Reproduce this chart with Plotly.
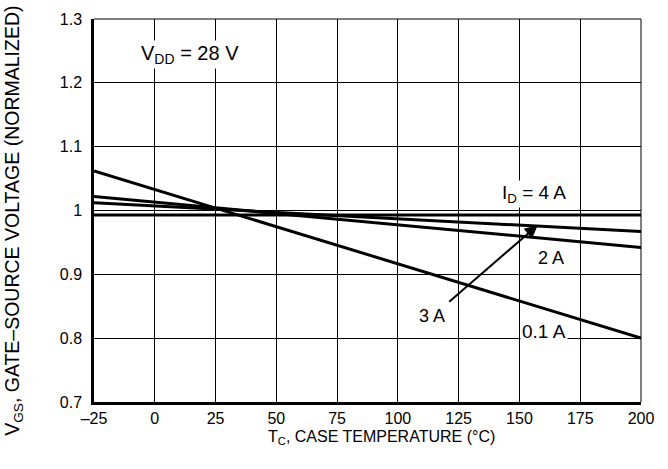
import plotly.graph_objects as go

# Data (normalized V_GS vs case temperature)
temps = [-25, 200]
vgs_01A = [1.062, 0.800]
vgs_2A = [1.022, 0.942]
vgs_3A = [1.012, 0.967]
vgs_4A = [0.993, 0.993]

x_ticks = [-25, 0, 25, 50, 75, 100, 125, 150, 175, 200]
x_tick_labels = ["–25", "0", "25", "50", "75", "100", "125", "150", "175", "200"]
y_ticks = [0.7, 0.8, 0.9, 1.0, 1.1, 1.2, 1.3]
y_tick_labels = ["0.7", "0.8", "0.9", "1", "1.1", "1.2", "1.3"]

x_title = "T<sub>C</sub>, CASE TEMPERATURE (°C)"
y_title = "V<sub>GS</sub>, GATE–SOURCE VOLTAGE (NORMALIZED)"

FONT = "Liberation Sans, Arial, sans-serif"

fig = go.Figure()
for ys in [vgs_01A, vgs_2A, vgs_3A, vgs_4A]:
    fig.add_trace(go.Scatter(x=temps, y=ys, mode="lines",
                             line=dict(color="black", width=3),
                             showlegend=False, hoverinfo="skip"))

# border lines at top and right (thin)
fig.add_shape(type="line", xref="paper", yref="paper", x0=0, x1=1, y0=1, y1=1,
              line=dict(color="black", width=1))
fig.add_shape(type="line", xref="paper", yref="paper", x0=1, x1=1, y0=0, y1=1,
              line=dict(color="black", width=1))

ann_font = dict(family=FONT, size=18, color="black")
fig.add_annotation(x=14.5, y=1.245, text="V<sub>DD</sub> = 28 V", showarrow=False,
                   font=dict(family=FONT, size=20, color="black"), bgcolor="white")
fig.add_annotation(x=156, y=1.026, text="I<sub>D</sub> = 4 A", showarrow=False,
                   font=dict(family=FONT, size=19, color="black"), bgcolor="white")
fig.add_annotation(x=163, y=0.925, text="2 A", showarrow=False,
                   font=ann_font, bgcolor="white")
fig.add_annotation(x=160, y=0.811, text="0.1 A", showarrow=False,
                   font=dict(family=FONT, size=19, color="black"), bgcolor="white")
fig.add_annotation(x=114, y=0.834, text="3 A", showarrow=False,
                   font=ann_font)
fig.add_annotation(x=157.5, y=0.977, ax=120.5, ay=0.855, axref="x", ayref="y",
                   text="", showarrow=True, arrowhead=2, arrowsize=1.3,
                   arrowwidth=2, arrowcolor="black")

# axis titles (positioned as in the reference)
fig.add_annotation(xref="paper", yref="paper", x=0.5247, y=-0.092,
                   xanchor="center", yanchor="middle", showarrow=False,
                   text=x_title, font=dict(family=FONT, size=16, color="black"))
fig.add_annotation(xref="paper", yref="paper", x=-0.1465, y=0.4726,
                   xanchor="center", yanchor="middle", showarrow=False, textangle=-90,
                   text=y_title, font=dict(family=FONT, size=19.5, color="black"))

fig.update_layout(
    width=668, height=469,
    margin=dict(l=94, r=27, t=19, b=67, autoexpand=False),
    paper_bgcolor="white", plot_bgcolor="white",
    font=dict(family=FONT, size=15, color="black"),
    showlegend=False,
)
fig.update_xaxes(range=[-25, 200], tickvals=x_ticks, ticktext=x_tick_labels,
                 showgrid=True, gridcolor="black", gridwidth=1,
                 showline=True, linecolor="black", linewidth=2.5,
                 ticks="", zeroline=False, automargin=False,
                 tickfont=dict(family=FONT, size=16))
fig.update_yaxes(range=[0.7, 1.3], tickvals=y_ticks, ticktext=y_tick_labels,
                 showgrid=True, gridcolor="black", gridwidth=1,
                 showline=True, linecolor="black", linewidth=2.5,
                 ticks="", zeroline=False, automargin=False,
                 ticklabelstandoff=6,
                 tickfont=dict(family=FONT, size=16))

fig.write_html("out.html", config={"displayModeBar": False},
               post_script="document.body.style.margin='0';")
